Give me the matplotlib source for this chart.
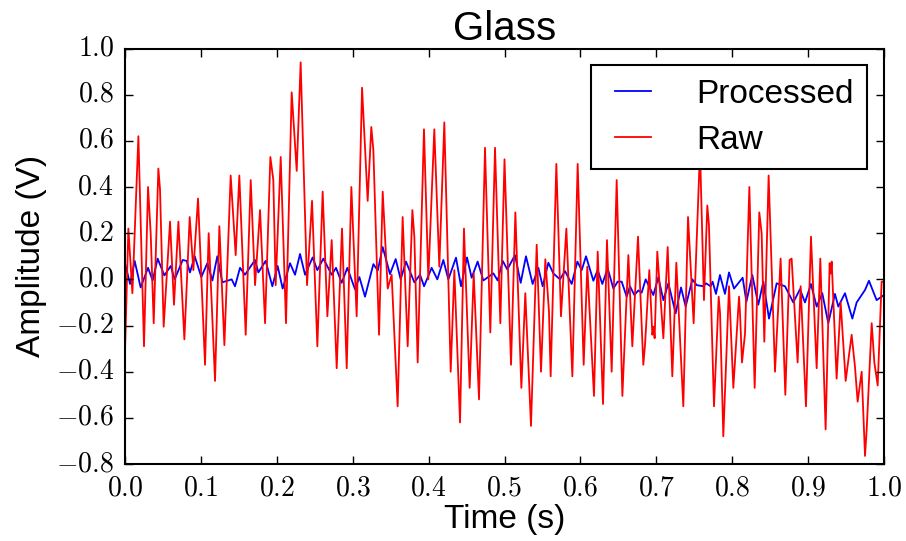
import matplotlib
matplotlib.use('Agg')
import matplotlib.pyplot as plt
from matplotlib.ticker import FuncFormatter, MultipleLocator

# raw signal (time in s, amplitude in V)
raw_t = [0.0, 0.0044, 0.0097, 0.0176, 0.0250, 0.0303, 0.0338, 0.0378, 0.0439, 0.0461,
         0.0509, 0.0593, 0.0645, 0.0703, 0.0782, 0.0852, 0.0900, 0.0962, 0.1054, 0.1102,
         0.1186, 0.1243, 0.1309, 0.1392, 0.1458, 0.1506, 0.1590, 0.1656, 0.1713, 0.1779,
         0.1845, 0.1915, 0.1954, 0.1985, 0.2051, 0.2121, 0.2196, 0.2262, 0.2314, 0.2398,
         0.2464, 0.2534, 0.2604, 0.2666, 0.2723, 0.2789, 0.2859, 0.2921, 0.2982, 0.3052,
         0.3123, 0.3197, 0.3245, 0.3272, 0.3347, 0.3395, 0.3461, 0.3513, 0.3592, 0.3658,
         0.3724, 0.3786, 0.3812, 0.3856, 0.3939, 0.3996, 0.4075, 0.4141, 0.4207, 0.4291,
         0.4339, 0.4414, 0.4466, 0.4541, 0.4594, 0.4664, 0.4743, 0.4813, 0.4875, 0.4945,
         0.5000, 0.5086, 0.5143, 0.5222, 0.5274, 0.5349, 0.5424, 0.5481, 0.5538, 0.5586,
         0.5608, 0.5683, 0.5744, 0.5815, 0.5894, 0.5964, 0.6043, 0.6091, 0.6126, 0.6179,
         0.6228, 0.6298, 0.6350, 0.6412, 0.6478, 0.6553, 0.6632, 0.6684, 0.6759, 0.6829,
         0.6851, 0.6908, 0.6948, 0.6965, 0.6978, 0.7013, 0.7093, 0.7150, 0.7211, 0.7264,
         0.7356, 0.7418, 0.7492, 0.7576, 0.7628, 0.7672, 0.7694, 0.7760, 0.7822, 0.7840,
         0.7883, 0.7958, 0.8015, 0.8090, 0.8103, 0.8129, 0.8169, 0.8226, 0.8296, 0.8357,
         0.8388, 0.8423, 0.8480, 0.8564, 0.8638, 0.8700, 0.8757, 0.8783, 0.8862, 0.8902,
         0.8972, 0.9038, 0.9113, 0.9161, 0.9231, 0.9284, 0.9297, 0.9311, 0.9376, 0.9429,
         0.9495, 0.9574, 0.9618, 0.9653, 0.9706, 0.9750, 0.9772, 0.9838, 0.9873, 0.9917,
         0.9969, 1.0]
raw_v = [-0.31, 0.22, -0.06, 0.62, -0.29, 0.40, 0.20, -0.19, 0.48, 0.39,
         -0.205, 0.25, -0.11, 0.25, -0.26, 0.27, 0.04, 0.35, -0.37, 0.20,
         -0.44, 0.23, -0.285, 0.45, 0.105, 0.45, -0.24, 0.43, -0.025, 0.30,
         -0.19, 0.53, 0.43, -0.025, 0.53, -0.19, 0.81, 0.47, 0.94, -0.025,
         0.34, -0.29, 0.38, -0.16, 0.17, -0.385, 0.22, -0.385, 0.40, -0.16,
         0.83, 0.34, 0.66, 0.56, -0.24, 0.38, -0.04, 0.02, -0.55, 0.27,
         -0.29, 0.30, 0.185, -0.36, 0.65, 0.0, 0.65, 0.055, 0.68, -0.40,
         0.04, -0.62, 0.22, -0.47, 0.026, -0.52, 0.57, -0.23, 0.57, -0.19,
         0.52, -0.37, 0.29, -0.47, -0.06, -0.635, 0.15, -0.40, 0.087, -0.14,
         -0.42, 0.50, -0.16, 0.22, -0.42, 0.50, -0.37, 0.055, -0.17, -0.505,
         0.12, -0.54, 0.17, -0.40, 0.43, -0.505, 0.105, -0.29, 0.185, -0.37,
         -0.285, 0.04, -0.24, -0.205, -0.255, 0.12, -0.255, 0.14, -0.42, 0.072,
         -0.55, 0.27, -0.19, 0.56, -0.09, 0.32, 0.235, -0.55, -0.075, -0.147,
         -0.68, -0.03, -0.47, -0.075, -0.147, -0.36, -0.235, 0.40, -0.47, 0.29,
         0.20, -0.27, 0.45, -0.40, 0.09, -0.50, 0.084, 0.09, -0.36, -0.03,
         -0.55, 0.185, -0.385, 0.09, -0.65, 0.07, 0.025, 0.077, -0.43, -0.10,
         -0.44, -0.24, -0.38, -0.53, -0.40, -0.765, -0.65, -0.19, -0.36, -0.46,
         -0.01, -0.01]

# processed signal
proc_t = [0.0, 0.0066, 0.0127, 0.0206, 0.0303, 0.0364, 0.0430, 0.0518, 0.0602, 0.0654,
          0.0760, 0.0812, 0.0856, 0.0918, 0.1005, 0.1085, 0.1151, 0.1216, 0.1282, 0.1405,
          0.1449, 0.1515, 0.1581, 0.1713, 0.1757, 0.1853, 0.1941, 0.2011, 0.2077, 0.2174,
          0.2240, 0.2306, 0.2372, 0.2472, 0.2534, 0.2613, 0.2723, 0.2780, 0.2855, 0.2929,
          0.3030, 0.3088, 0.3162, 0.3272, 0.3330, 0.3395, 0.3491, 0.3566, 0.3632, 0.3702,
          0.3812, 0.3887, 0.3940, 0.4040, 0.4115, 0.4194, 0.4260, 0.4361, 0.4427, 0.4506,
          0.4567, 0.4646, 0.4721, 0.4853, 0.4910, 0.4976, 0.5037, 0.5138, 0.5213, 0.5283,
          0.5371, 0.5446, 0.5503, 0.5578, 0.5643, 0.5731, 0.5797, 0.5885, 0.5960, 0.6017,
          0.6074, 0.6171, 0.6228, 0.6289, 0.6359, 0.6434, 0.6491, 0.6544, 0.6610, 0.6653,
          0.6711, 0.6763, 0.6807, 0.6860, 0.6961, 0.7027, 0.7093, 0.7159, 0.7255, 0.7326,
          0.7387, 0.7475, 0.7532, 0.7620, 0.7655, 0.7716, 0.7742, 0.7786, 0.7839, 0.7905,
          0.7958, 0.8024, 0.8138, 0.8187, 0.8265, 0.8344, 0.8410, 0.8485, 0.8586, 0.8696,
          0.8805, 0.8893, 0.8959, 0.9038, 0.9113, 0.9187, 0.9266, 0.9354, 0.9398, 0.9486,
          0.9583, 0.9640, 0.9750, 0.9802, 0.9903, 1.0]
proc_v = [0.07, -0.02, 0.08, -0.035, 0.05, -0.005, 0.09, 0.017, 0.058, 0.0,
          0.084, 0.08, 0.03, 0.10, 0.01, 0.07, -0.005, 0.10, -0.013, 0.0,
          -0.03, 0.05, 0.02, 0.084, 0.03, 0.08, -0.03, 0.058, -0.04, 0.07,
          0.02, 0.11, 0.02, 0.095, 0.04, 0.09, 0.02, 0.05, -0.015, 0.05,
          -0.043, 0.01, -0.075, 0.066, 0.038, 0.14, 0.023, 0.088, 0.0, 0.077,
          -0.013, 0.02, -0.03, 0.05, 0.0, 0.084, 0.0, 0.094, -0.03, 0.095,
          0.007, 0.077, -0.005, 0.026, -0.005, 0.08, 0.043, 0.105, -0.015, 0.10,
          -0.02, 0.05, -0.03, 0.072, 0.026, 0.0, 0.036, -0.02, 0.077, 0.04,
          0.10, -0.006, 0.04, -0.02, 0.048, -0.04, -0.01, -0.01, -0.075, -0.03,
          -0.068, -0.048, -0.058, 0.0, -0.068, 0.009, -0.09, -0.017, -0.147, -0.035,
          -0.118, 0.0, -0.025, -0.03, -0.017, -0.03, -0.01, -0.063, 0.019, -0.063,
          0.03, -0.04, 0.007, -0.097, 0.019, -0.11, -0.01, -0.17, -0.017, -0.03,
          -0.10, -0.043, -0.10, -0.02, -0.118, -0.06, -0.19, -0.063, -0.118, -0.06,
          -0.17, -0.10, -0.046, -0.006, -0.09, -0.068]

plt.style.use('classic')
plt.rcParams['font.family'] = ['Liberation Sans', 'DejaVu Sans']
plt.rcParams['mathtext.fontset'] = 'cm'

fig = plt.figure(figsize=(9.06, 5.41), dpi=100, facecolor='white')
ax = fig.add_axes([0.138, 0.1423, 0.8377, 0.768])

ax.plot(proc_t, proc_v, color='b', lw=1.3, label='Processed')
ax.plot(raw_t, raw_v, color='r', lw=1.3, label='Raw')

ax.set_xlim(0, 1)
ax.set_ylim(-0.8, 1.0)
ax.xaxis.set_major_locator(MultipleLocator(0.1))
ax.yaxis.set_major_locator(MultipleLocator(0.2))
fmt = FuncFormatter(lambda v, p: r'$%.1f$' % (0.0 if abs(v) < 1e-9 else v))
ax.xaxis.set_major_formatter(fmt)
ax.yaxis.set_major_formatter(fmt)
ax.tick_params(labelsize=20, direction='in', length=6, width=1, pad=8)
for s in ax.spines.values():
    s.set_linewidth(1.5)

ax.set_title('Glass', fontsize=29, pad=6)
ax.set_xlabel('Time (s)', fontsize=24, labelpad=2)
ax.set_ylabel('Amplitude (V)', fontsize=24, labelpad=6)

leg = ax.legend(loc='upper right', fontsize=24, handlelength=1.7, handletextpad=1.05,
                borderaxespad=0.5, labelspacing=0.45, fancybox=False)
leg.get_frame().set_linewidth(1.5)
leg.get_frame().set_edgecolor('black')

fig.savefig('out.png', dpi=100, facecolor='white')
